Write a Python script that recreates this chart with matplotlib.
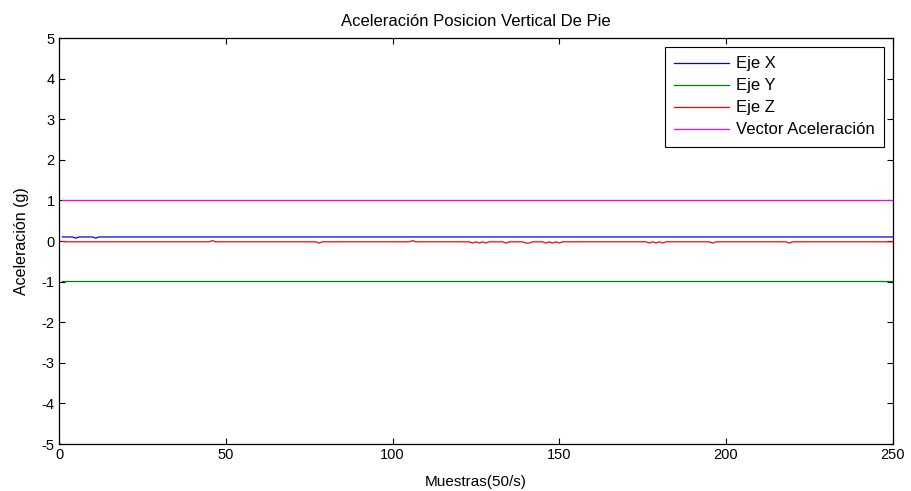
import matplotlib
matplotlib.use("Agg")
import matplotlib.pyplot as plt

plt.rcParams['font.family'] = ['Liberation Sans', 'DejaVu Sans']

# Data (breakpoints)
x_ejex = [1, 4, 5, 6, 10, 11, 12, 250]
y_ejex = [0.10, 0.10, 0.07, 0.10, 0.10, 0.07, 0.10, 0.10]

x_ejey = [1, 250]
y_ejey = [-0.99, -0.99]

x_ejez = [1, 2, 45, 46, 47, 77, 78, 79, 105, 106, 107, 123, 124, 125, 126, 127, 128, 129,
          130, 133, 134, 135, 139, 140, 141, 142, 145, 146, 147, 148, 149, 150, 151, 152,
          176, 177, 178, 179, 180, 181, 182, 195, 196, 197, 218, 219, 220, 250]
y_ejez = [-0.01, -0.02, -0.02, 0.01, -0.02, -0.02, -0.05, -0.02, -0.02, 0.01, -0.02, -0.02, -0.05, -0.02,
          -0.05, -0.02, -0.05, -0.02, -0.02, -0.02, -0.05, -0.02, -0.02, -0.05, -0.05, -0.02,
          -0.02, -0.05, -0.02, -0.05, -0.02, -0.05, -0.02, -0.02,
          -0.02, -0.05, -0.02, -0.05, -0.02, -0.05, -0.02, -0.02, -0.05, -0.02, -0.02, -0.05,
          -0.02, -0.02]

x_vector = [1, 250]
y_vector = [1.00, 1.00]

labels = ['Eje X', 'Eje Y', 'Eje Z', 'Vector Aceleración']
x_ticks = [0, 50, 100, 150, 200, 250]
y_ticks = [-5, -4, -3, -2, -1, 0, 1, 2, 3, 4, 5]

fig = plt.figure(figsize=(9.11, 4.91), dpi=100)
ax = fig.add_axes([0.0648, 0.0957, 0.9152, 0.8269])

lw = 0.9
ax.plot(x_ejex, y_ejex, color=(0, 0, 1), lw=lw, label=labels[0])
ax.plot(x_ejey, y_ejey, color=(0, 0.5, 0), lw=lw, label=labels[1])
ax.plot(x_ejez, y_ejez, color=(1, 0, 0), lw=lw, label=labels[2])
ax.plot(x_vector, y_vector, color=(1, 0, 1), lw=lw, label=labels[3])

ax.set_xlim(0, 250)
ax.set_ylim(-5, 5)
ax.set_xticks(x_ticks)
ax.set_yticks(y_ticks)
ax.set_yticklabels([str(v) for v in y_ticks])
ax.tick_params(direction='in', top=True, right=True, length=4, width=0.8,
               labelsize=10.5, colors='black', pad=3)
for s in ax.spines.values():
    s.set_linewidth(0.9)
    s.set_color('black')

ax.set_title('Aceleración Posicion Vertical De Pie', fontsize=12, pad=9)
ax.set_xlabel('Muestras(50/s)', fontsize=11, labelpad=9)
ax.set_ylabel('Aceleración (g)', fontsize=11.5, labelpad=9)

leg = ax.legend(loc='upper right', fontsize=12, frameon=True, fancybox=False,
                edgecolor='black', framealpha=1, borderaxespad=0.55,
                handlelength=3.3, handletextpad=0.38, labelspacing=0.42,
                borderpad=0.55, handleheight=0.7)
leg.get_frame().set_linewidth(0.8)

fig.savefig('out.png', dpi=100)
